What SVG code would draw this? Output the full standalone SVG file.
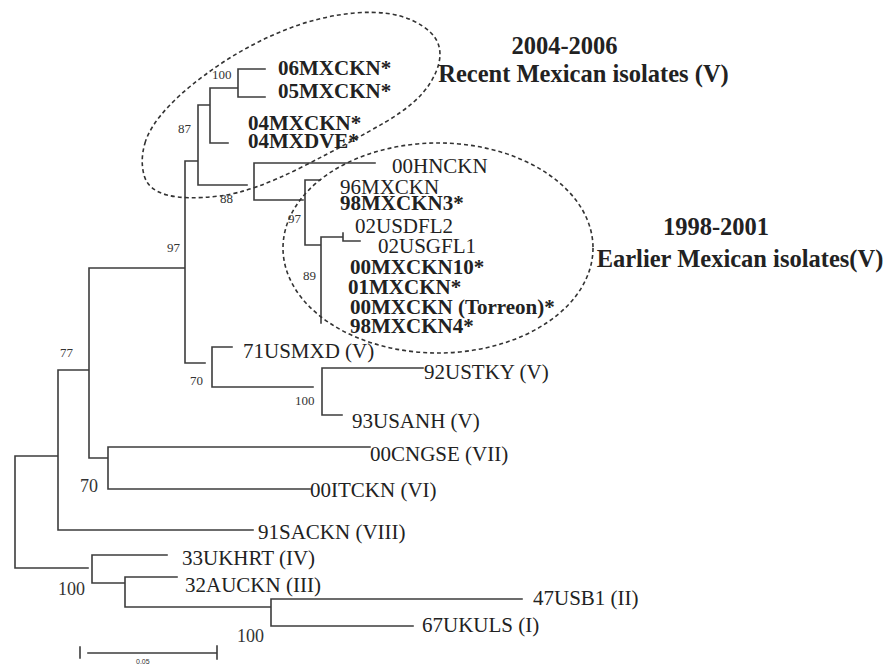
<svg xmlns="http://www.w3.org/2000/svg" width="890" height="665" viewBox="0 0 890 665">
<style>
.e{stroke:#3c3c3c;stroke-width:1.6;fill:none;stroke-linecap:square}
.t{font-family:"Liberation Serif","Times New Roman",serif;font-size:21px;fill:#222}
.b{font-weight:bold}
.s{font-family:"Liberation Serif","Times New Roman",serif;font-size:13px;fill:#333}
.m{font-family:"Liberation Serif","Times New Roman",serif;font-size:18px;fill:#333}
.g{font-family:"Liberation Serif","Times New Roman",serif;font-size:24.5px;font-weight:bold;fill:#222}
.d{stroke:#333;stroke-width:1.6;fill:none;stroke-dasharray:4 3}
</style>
<rect width="890" height="665" fill="#fff"/>
<g id="connectors">
<path class="e" d="M15,456V568 M15,456H58 M58,370V530 M58,370H89 M58,530H253 M89,268V458 M89,268H185 M89,458H108 M108,447V489 M108,447H370 M108,489H310 M185,161V363 M185,161H198 M185,363H205 M198,105V185 M198,105H210 M198,185H247 M210,88V143 M210,88H238 M210,143H228 M238,69V97 M238,69H265 M238,97H265 M254,163V200 M254,163H375 M254,200H303 M305,180V245 M305,180H320 M305,245H321 M321,237V323 M321,237H343 M343,233V241 M343,241H360 M212,347V387 M212,347H232 M212,387H313 M322,368V415 M322,368H423 M322,415H342 M15,568H88 M92,555V583 M92,555H167 M92,583H125 M125,577V607 M125,577H177 M125,607H270 M271,599V626 M271,599H522 M271,626H413"/>
</g>
<g id="clusters">
<path class="d" d="M145,143 Q150,126 169,106 Q188,86 219,65 Q250,44 285,30 Q320,16 355,13 Q390,10 412.5,20.5 Q435,31 439,46.5 Q443,62 430.5,82.5 Q418,103 385.5,122 Q353,141 303,166.5 Q253,192 219.5,196 Q186,200 167,195 Q148,190 144,175 Q140,160 145,143 Z"/>
<ellipse class="d" cx="438" cy="248" rx="155" ry="105"/>
</g>
<g id="group-recent"><text class="g" x="564.5" y="54" text-anchor="middle">2004-2006</text><text class="g" x="583.5" y="82" text-anchor="middle">Recent Mexican isolates (V)</text></g>
<g id="group-earlier"><text class="g" x="716" y="235" text-anchor="middle">1998-2001</text><text class="g" x="740" y="267" text-anchor="middle">Earlier Mexican isolates(V)</text></g>
<g id="n06MXCKN"><text class="t b" x="278" y="75">06MXCKN*</text></g>
<g id="n05MXCKN"><text class="t b" x="278" y="98">05MXCKN*</text></g>
<g id="n04MXCKN"><text class="t b" x="248" y="130">04MXCKN*</text></g>
<g id="n04MXDVE"><text class="t b" x="248" y="148">04MXDVE*</text></g>
<g id="n00HNCKN"><text class="t" x="392" y="173">00HNCKN</text></g>
<g id="n96MXCKN"><text class="t" x="340" y="194">96MXCKN</text></g>
<g id="n98MXCKN3"><text class="t b" x="340" y="210">98MXCKN3*</text></g>
<g id="n02USDFL2"><text class="t" x="355" y="233">02USDFL2</text></g>
<g id="n02USGFL1"><text class="t" x="378" y="253">02USGFL1</text></g>
<g id="n00MXCKN10"><text class="t b" x="350" y="274">00MXCKN10*</text></g>
<g id="n01MXCKN"><text class="t b" x="348" y="294">01MXCKN*</text></g>
<g id="n00MXCKNT"><text class="t b" x="350" y="314">00MXCKN (Torreon)*</text></g>
<g id="n98MXCKN4"><text class="t b" x="350" y="333">98MXCKN4*</text></g>
<g id="n71USMXD"><text class="t" x="243" y="358">71USMXD (V)</text></g>
<g id="n92USTKY"><text class="t" x="424" y="379">92USTKY (V)</text></g>
<g id="n93USANH"><text class="t" x="352" y="428">93USANH (V)</text></g>
<g id="n00CNGSE"><text class="t" x="370" y="461">00CNGSE (VII)</text></g>
<g id="n00ITCKN"><text class="t" x="310" y="497">00ITCKN (VI)</text></g>
<g id="n91SACKN"><text class="t" x="258" y="539">91SACKN (VIII)</text></g>
<g id="n33UKHRT"><text class="t" x="182" y="565">33UKHRT (IV)</text></g>
<g id="n32AUCKN"><text class="t" x="185" y="592">32AUCKN (III)</text></g>
<g id="n47USB1"><text class="t" x="533" y="605">47USB1 (II)</text></g>
<g id="n67UKULS"><text class="t" x="422" y="632">67UKULS (I)</text></g>
<g id="bootstrap">
<text class="s" x="212" y="79">100</text>
<text class="s" x="178" y="133">87</text>
<text class="s" x="220" y="203">88</text>
<text class="s" x="288" y="223">97</text>
<text class="s" x="303" y="280" fill="#777" font-size="11">89</text>
<text class="s" x="167" y="252">97</text>
<text class="s" x="60" y="357">77</text>
<text class="s" x="190" y="385">70</text>
<text class="s" x="295" y="405">100</text>
<text class="m" x="80" y="492">70</text>
<text class="m" x="58" y="595">100</text>
<text class="m" x="237" y="642">100</text>
</g>
<g id="scale">
<path class="e" d="M80,647V658 M88,653H217 M217,646V659" stroke-width="1.3"/>
<text x="136" y="664" font-family="Liberation Sans, Arial, sans-serif" font-size="7" fill="#333">0.05</text>
</g>
</svg>
